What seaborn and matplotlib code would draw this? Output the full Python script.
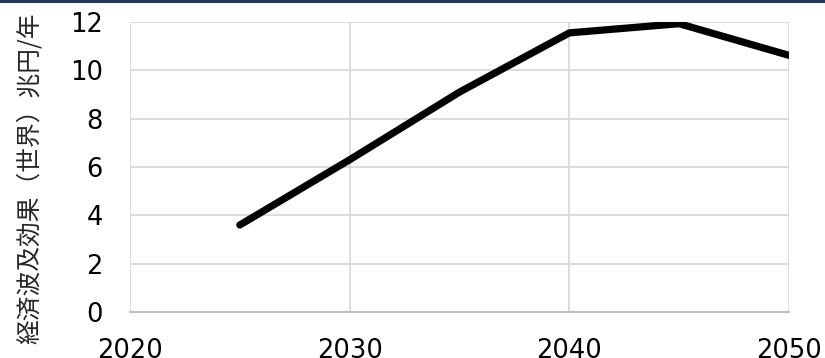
import matplotlib
matplotlib.use("Agg")
import matplotlib.pyplot as plt
import seaborn as sns
import pandas as pd
from matplotlib.patches import Rectangle

years = [2025, 2030, 2035, 2040, 2045, 2050]
values = [3.6, 6.3, 9.1, 11.55, 11.93, 10.62]
x_ticks = [2020, 2030, 2040, 2050]
y_ticks = [0, 2, 4, 6, 8, 10, 12]
y_label = "経済波及効果（世界）兆円/年"

sns.set_theme(style="white")
plt.rcParams['font.family'] = ['DejaVu Sans', 'Noto Sans CJK JP']

fig = plt.figure(figsize=(8.25, 3.58), dpi=100)
ax = fig.add_axes([130/825, 1-312/358, (789-130)/825, (312-22)/358])

df = pd.DataFrame({"year": years, "value": values})
sns.lineplot(data=df, x="year", y="value", ax=ax, color="black", linewidth=5.2,
             solid_joinstyle="round", solid_capstyle="round", zorder=3)

ax.set_xlim(2020, 2050)
ax.set_ylim(0, 12)
ax.set_xticks(x_ticks)
ax.set_yticks(y_ticks)
ax.grid(True, color="#d9d9d9", linewidth=1.3)
ax.set_axisbelow(True)
for s in ["top", "right", "left"]:
    ax.spines[s].set_visible(False)
ax.spines["bottom"].set_color("#bfbfbf")
ax.spines["bottom"].set_linewidth(1.5)
ax.tick_params(axis="both", length=0, labelsize=18.5, colors="black")
ax.tick_params(axis="x", pad=18.5)
ax.tick_params(axis="y", pad=19.5)
ax.set_xlabel("")
ax.set_ylabel("")

fig.text(30/825, 1-178/358, y_label, rotation=90, ha="center", va="center",
         fontsize=17.8, family=['Noto Sans CJK JP', 'DejaVu Sans'])

fig.patches.append(Rectangle((0, 1-2.5/358), 1, 2.5/358, transform=fig.transFigure,
                             facecolor="#1f3864", edgecolor="none", zorder=10))

fig.savefig("out.png", dpi=100)
